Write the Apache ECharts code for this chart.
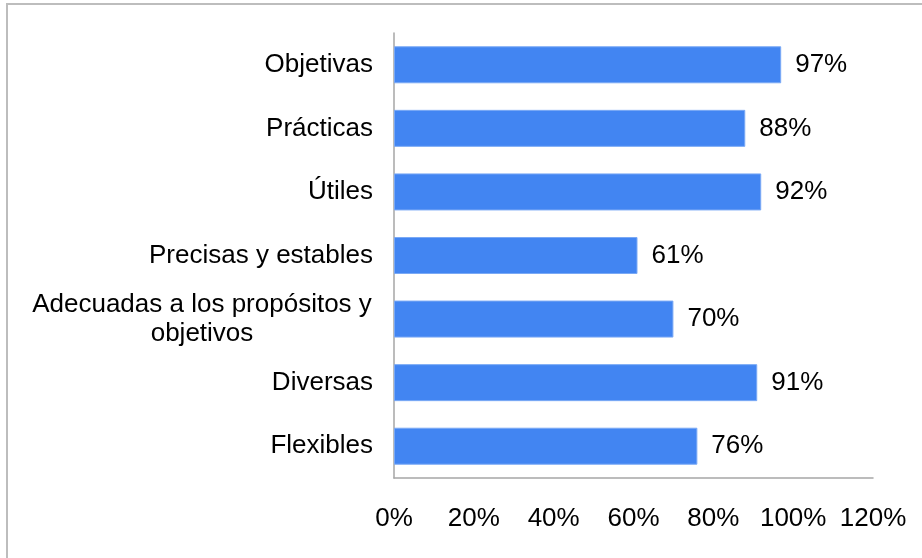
<!DOCTYPE html>
<html>
<head>
<meta charset="utf-8">
<script src="https://cdn.jsdelivr.net/npm/echarts@6/dist/echarts.min.js"></script>
<style>
  html, body { margin: 0; padding: 0; background: #ffffff; }
  #chart { width: 922px; height: 558px; }
</style>
</head>
<body>
<div id="chart"></div>
<script>
// Characteristics, listed top to bottom
const categories = [
  'Objetivas',
  'Prácticas',
  'Útiles',
  'Precisas y estables',
  'Adecuadas a los propósitos y\nobjetivos',
  'Diversas',
  'Flexibles'
];
// Percentage of respondents per characteristic
const values = [97, 88, 92, 61, 70, 91, 76];
// Value axis ticks
const tickValues = [0, 20, 40, 60, 80, 100, 120];

const FONT = '"Liberation Sans", Arial, sans-serif';
const FS = 26;
const chart = echarts.init(document.getElementById('chart'), null, { renderer: 'canvas' });

chart.setOption({
  backgroundColor: '#ffffff',
  animation: false,
  graphic: [{
    type: 'rect',
    shape: { x: 7, y: 4, width: 1000, height: 1000 },
    style: { fill: 'none', stroke: '#bdbdbd', lineWidth: 2 },
    silent: true
  }],
  grid: { left: 394, right: 49, top: 33, bottom: 80, containLabel: false },
  xAxis: {
    type: 'value',
    min: tickValues[0],
    max: tickValues[tickValues.length - 1],
    interval: tickValues[1] - tickValues[0],
    axisLine: { show: true, lineStyle: { color: '#a6a6a6', width: 1.5 } },
    axisTick: { show: false },
    splitLine: { show: false },
    axisLabel: {
      margin: 28,
      color: '#000',
      fontFamily: FONT,
      fontSize: FS,
      formatter: v => v + '%'
    }
  },
  yAxis: {
    type: 'category',
    inverse: true,
    data: categories,
    axisLine: { show: true, lineStyle: { color: '#a6a6a6', width: 1.5 } },
    axisTick: { show: false },
    axisLabel: {
      margin: 21,
      color: '#000',
      fontFamily: FONT,
      fontSize: FS,
      lineHeight: 29,
      formatter: v => v.indexOf('\n') >= 0
        ? v.split('\n').map(s => '{c|' + s + '}').join('\n')
        : v,
      rich: {
        c: { width: 342, align: 'center', fontFamily: FONT, fontSize: FS, color: '#000', lineHeight: 29 }
      }
    }
  },
  series: [{
    type: 'bar',
    data: values,
    barWidth: 37,
    itemStyle: { color: '#4285f2', borderColor: '#7aa9f5', borderWidth: 1 },
    label: {
      show: true,
      position: 'right',
      distance: 14,
      color: '#000',
      fontFamily: FONT,
      fontSize: FS,
      formatter: p => p.value + '%'
    }
  }]
});
</script>
</body>
</html>
